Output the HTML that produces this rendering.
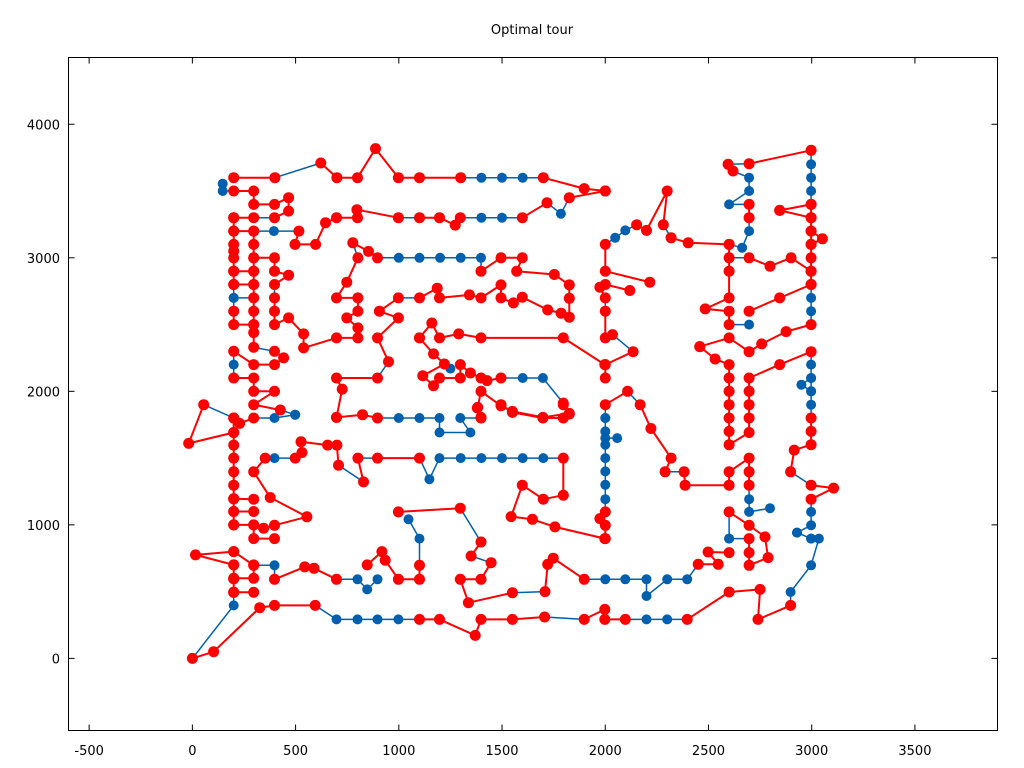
<!DOCTYPE html>
<html><head><meta charset="utf-8"><style>
html,body{margin:0;padding:0;background:#fff;}
svg{display:block;font-family:"DejaVu Sans","Liberation Sans",sans-serif;}
</style></head><body>
<svg id="chart" width="1024" height="768" viewBox="0 0 1024 768" xmlns="http://www.w3.org/2000/svg">
<rect width="1024" height="768" fill="#fff"/>
<text x="532" y="34" font-size="13" text-anchor="middle" fill="#000">Optimal tour</text>
<g id="axes"></g>
<g id="blue-layer"></g>
<g id="red-layer"></g>
<rect x="68.5" y="57.5" width="929" height="673" fill="none" stroke="#000" stroke-width="1"/>
</svg>
<script>
const xTicks = [-500,0,500,1000,1500,2000,2500,3000,3500];
const yTicks = [0,1000,2000,3000,4000];
const bluePaths = [
 [[400,3600],[622,3710]],
 [[1300,3600],[1400,3600],[1500,3600],[1600,3600],[1700,3600]],
 [[147,3555],[147,3500],[200,3500]],
 [[297,3300],[398,3300]],
 [[297,3200],[395,3200],[516,3200]],
 [[998,3300],[1100,3300]],
 [[1298,3300],[1400,3300],[1500,3300],[1598,3300]],
 [[1718,3412],[1785,3330],[1826,3450]],
 [[777,3112],[802,3000]],
 [[897,3000],[1000,3000],[1100,3000],[1200,3000],[1300,3000],[1398,3000],[1398,2900]],
 [[200,2800],[200,2700],[200,2600]],
 [[200,2700],[297,2700]],
 [[398,2800],[398,2700]],
 [[1100,2700],[998,2700]],
 [[950,2222],[897,2100]],
 [[1221,2205],[1250,2170]],
 [[1495,2100],[1600,2100],[1698,2100],[1797,1912]],
 [[297,2330],[398,2300]],
 [[200,2300],[200,2200],[200,2100]],
 [[426,1860],[498,1825]],
 [[55,1900],[200,1800]],
 [[297,1800],[398,1800],[498,1825]],
 [[897,1800],[1000,1800],[1100,1800],[1197,1800],[1197,1692],[1347,1692],[1298,1800],[1398,1800]],
 [[353,1500],[398,1500],[498,1500]],
 [[708,1447],[829,1322]],
 [[802,1500],[897,1500]],
 [[1100,1500],[1148,1342],[1197,1500],[1300,1500],[1400,1500],[1500,1500],[1600,1500],[1700,1500],[1797,1500]],
 [[297,697],[398,697],[398,592]],
 [[698,592],[800,592],[847,517],[897,592]],
 [[1100,697],[1100,897],[1047,1042]],
 [[1298,1125],[1398,872]],
 [[1350,767],[1447,717]],
 [[1298,592],[1398,592]],
 [[1550,492],[1708,500]],
 [[1898,592],[2000,592],[2097,592],[2200,592],[2200,467],[2300,592],[2397,592],[2450,705]],
 [[200,495],[200,397],[0,0]],
 [[595,397],[698,292],[800,292],[897,292],[998,292],[1100,292]],
 [[1706,310],[1898,292]],
 [[2097,292],[2200,292],[2300,292],[2397,292]],
 [[2898,397],[2898,497],[2997,697],[3035,897],[2997,897]],
 [[2997,897],[2929,942]],
 [[2997,1192],[2997,1097],[2997,997],[2929,942]],
 [[2898,1397],[2997,1297]],
 [[2000,1800],[2000,1700],[2000,1600],[2000,1500],[2000,1400],[2000,1300],[2000,1192],[2000,1097]],
 [[2000,1650],[2058,1650]],
 [[2000,2700],[2000,2600]],
 [[2035,2425],[2135,2297]],
 [[2108,2000],[2169,1900]],
 [[2000,1900],[2000,1800]],
 [[2290,1397],[2382,1397]],
 [[2000,3100],[2048,3150],[2097,3205],[2152,3247]],
 [[2281,3247],[2319,3150]],
 [[2600,3000],[2697,3000]],
 [[2600,2500],[2697,2500]],
 [[2595,3700],[2697,3705]],
 [[2619,3650],[2697,3600],[2697,3500],[2600,3400],[2697,3400]],
 [[2697,3300],[2697,3200],[2663,3075],[2600,3100]],
 [[2997,3805],[2997,3700],[2997,3600],[2997,3500],[2997,3400]],
 [[2997,2800],[2997,2700],[2997,2600],[2997,2500]],
 [[2997,2297],[2997,2200],[2997,2100],[2997,2000],[2997,1900],[2997,1800]],
 [[2997,2100],[2950,2050],[2997,2000]],
 [[2697,1297],[2697,1192],[2697,1097],[2798,1125]],
 [[2600,897],[2697,897]],
 [[2600,1097],[2600,897]]
];
const redPaths = [
 [[200,3600],[400,3600]],
 [[622,3710],[700,3600],[800,3600],[887,3818],[998,3600],[1100,3600],[1300,3600]],
 [[1700,3600],[1898,3518],[2000,3500]],
 [[1826,3450],[2000,3500]],
 [[1598,3300],[1718,3412]],
 [[200,3500],[297,3500],[297,3400],[398,3400],[466,3450],[466,3350],[398,3300]],
 [[200,3300],[297,3300]],
 [[200,3200],[297,3200]],
 [[516,3200],[497,3100],[597,3100],[645,3262],[698,3300],[800,3300],[797,3360],[998,3300]],
 [[1100,3300],[1197,3300],[1273,3245],[1298,3300]],
 [[200,3300],[200,3200],[200,3100],[200,3050],[200,3000],[200,2900],[200,2800]],
 [[200,2900],[297,2900]],
 [[200,2800],[297,2800]],
 [[200,2600],[200,2500],[297,2500]],
 [[297,3200],[297,3100],[297,3000],[297,2900],[297,2800],[297,2700],[297,2600],[297,2500],[297,2440],[297,2330]],
 [[297,3000],[398,3000],[398,2900],[466,2870],[398,2800]],
 [[398,2700],[398,2600],[398,2500],[466,2550],[539,2430],[539,2325],[698,2400],[802,2400],[802,2475],[748,2550],[802,2600],[802,2700],[698,2700],[748,2817],[802,3000]],
 [[777,3112],[853,3048],[897,3000]],
 [[1398,2900],[1495,3000],[1598,3000],[1571,2900],[1753,2875],[1826,2797],[1826,2697],[1826,2555],[1786,2585],[1721,2610],[1598,2705],[1555,2662],[1495,2700],[1495,2797],[1398,2700],[1342,2722],[1197,2700],[1186,2772],[1100,2700]],
 [[998,2700],[906,2600],[998,2550],[897,2400],[950,2222]],
 [[897,2100],[698,2100],[726,2017],[698,1805]],
 [[1100,2400],[1160,2512],[1197,2400],[1290,2430],[1398,2400],[1797,2400],[1998,2200]],
 [[1100,2400],[1168,2280],[1221,2205],[1116,2117],[1168,2042],[1197,2100],[1298,2100],[1298,2200],[1347,2137],[1398,2100],[1427,2080],[1495,2100]],
 [[1797,1912],[1826,1835],[1698,1805],[1550,1850],[1495,1892],[1398,2000],[1382,1880],[1398,1805]],
 [[200,2300],[297,2200],[398,2200],[442,2250],[398,2300]],
 [[200,2100],[297,2100],[297,2000],[398,2000],[297,1900],[426,1860]],
 [[698,1805],[824,1825],[897,1800]],
 [[1398,1800],[1380,1875]],
 [[1495,1900],[1550,1842],[1698,1800],[1797,1800],[1826,1830],[1797,1900]],
 [[55,1900],[-18,1610],[200,1692]],
 [[200,1800],[229,1760],[297,1800]],
 [[200,1800],[200,1692],[200,1597],[200,1500],[200,1397],[200,1297],[200,1195],[200,1100],[200,1000]],
 [[200,1195],[297,1192]],
 [[200,1100],[297,1100]],
 [[200,1000],[297,1000],[345,975],[398,997],[555,1060],[377,1205],[297,1397],[353,1500]],
 [[297,1000],[297,897],[398,897]],
 [[498,1500],[531,1542],[526,1622],[655,1597],[700,1597],[708,1447]],
 [[829,1322],[802,1500]],
 [[897,1500],[1100,1500]],
 [[1797,1500],[1797,1222],[1700,1192],[1598,1297],[1544,1062],[1647,1042],[1756,985],[1998,897]],
 [[200,800],[15,775],[200,700]],
 [[200,800],[297,697]],
 [[398,592],[544,685],[589,675],[698,592]],
 [[847,700],[918,800],[934,735],[998,592],[1100,592],[1100,697]],
 [[998,1097],[1298,1125]],
 [[1398,872],[1350,767]],
 [[1447,717],[1398,592],[1298,592],[1337,417],[1550,492]],
 [[1708,500],[1721,705],[1748,750],[1898,592]],
 [[200,700],[200,595],[200,495]],
 [[200,600],[297,600],[297,700]],
 [[200,495],[297,495]],
 [[0,0],[103,50],[326,380],[398,397],[595,397]],
 [[1100,292],[1197,292],[1370,172],[1398,292],[1550,292],[1706,310]],
 [[1898,292],[1998,367],[1998,292],[2097,292]],
 [[2397,292],[2600,497],[2750,517],[2740,292],[2898,397]],
 [[2000,3100],[2000,2900],[2216,2817]],
 [[2119,2755],[2000,2800],[1974,2780],[2000,2700]],
 [[2000,2600],[2000,2400],[2035,2425]],
 [[2135,2297],[2000,2200],[2000,2100]],
 [[2000,1900],[2108,2000]],
 [[2169,1900],[2221,1722],[2319,1500],[2290,1397]],
 [[2382,1397],[2387,1297],[2600,1297],[2600,1397],[2697,1500],[2697,1397],[2697,1297]],
 [[2000,1097],[1974,1047],[2000,997],[2000,897]],
 [[2152,3247],[2200,3205],[2300,3500],[2281,3247]],
 [[2319,3150],[2402,3112],[2600,3100]],
 [[2600,3100],[2600,3000],[2600,2900],[2600,2700],[2484,2617],[2600,2600],[2600,2500]],
 [[2697,3000],[2798,2937],[2900,3000],[2997,2900]],
 [[2697,2600],[2845,2700],[2997,2800]],
 [[2697,3400],[2697,3300]],
 [[2458,2335],[2600,2400],[2697,2297],[2758,2355],[2876,2447],[2997,2500]],
 [[2458,2335],[2532,2242],[2600,2200],[2600,2100],[2600,2000],[2600,1900],[2600,1800],[2600,1700],[2600,1600],[2697,1692],[2697,1800],[2697,1900],[2697,2000],[2697,2100],[2845,2200],[2997,2297]],
 [[2595,3700],[2619,3650]],
 [[2697,3705],[2997,3805]],
 [[2997,3400],[2997,3300],[2997,3200],[2997,3100],[2997,3000],[2997,2900],[2997,2800]],
 [[2845,3355],[2997,3400]],
 [[2845,3355],[2997,3300]],
 [[2997,3200],[3052,3142],[2997,3100]],
 [[2997,1800],[2997,1700],[2997,1600],[2915,1560],[2898,1397]],
 [[2997,1297],[3106,1275],[2997,1192]],
 [[2600,1097],[2697,997],[2774,910],[2789,755],[2697,697],[2697,792],[2697,897]],
 [[2600,792],[2498,797],[2547,705],[2450,705]]
];
const X0=-600, X1=3900, Y0=-540, Y1=4500;
const L=68.5, R=997.5, T=57.5, B=730.5;
function sx(v){return L+(v-X0)/(X1-X0)*(R-L);}
function sy(v){return B-(v-Y0)/(Y1-Y0)*(B-T);}
const NS="http://www.w3.org/2000/svg";
const axes=document.getElementById('axes');
xTicks.forEach(t=>{
  const x=sx(t);
  const l1=document.createElementNS(NS,'line');
  l1.setAttribute('x1',x);l1.setAttribute('x2',x);l1.setAttribute('y1',B);l1.setAttribute('y2',B-6);l1.setAttribute('stroke','#000');
  
  
  axes.appendChild(l1);
  const l2=document.createElementNS(NS,'line');
  l2.setAttribute('x1',x);l2.setAttribute('x2',x);l2.setAttribute('y1',T);l2.setAttribute('y2',T+6);l2.setAttribute('stroke','#000');
  
  
  axes.appendChild(l2);
  const tx=document.createElementNS(NS,'text');
  tx.setAttribute('x',x);tx.setAttribute('y',755);tx.setAttribute('font-size','13');tx.setAttribute('text-anchor','middle');
  tx.textContent=t;
  
  
  axes.appendChild(tx);
});
yTicks.forEach(t=>{
  const y=sy(t);
  const l1=document.createElementNS(NS,'line');
  l1.setAttribute('x1',L);l1.setAttribute('x2',L+6);l1.setAttribute('y1',y);l1.setAttribute('y2',y);l1.setAttribute('stroke','#000');
  
  
  axes.appendChild(l1);
  const l2=document.createElementNS(NS,'line');
  l2.setAttribute('x1',R);l2.setAttribute('x2',R-6);l2.setAttribute('y1',y);l2.setAttribute('y2',y);l2.setAttribute('stroke','#000');
  
  
  axes.appendChild(l2);
  const tx=document.createElementNS(NS,'text');
  tx.setAttribute('x',60);tx.setAttribute('y',y+5);tx.setAttribute('font-size','13');tx.setAttribute('text-anchor','end');
  tx.textContent=t;
  
  
  axes.appendChild(tx);
});
function drawLayer(g,paths,color,lw,r){
  paths.forEach(p=>{
    const pl=document.createElementNS(NS,'polyline');
    pl.setAttribute('points',p.map(q=>sx(q[0]).toFixed(1)+','+sy(q[1]).toFixed(1)).join(' '));
    pl.setAttribute('fill','none');pl.setAttribute('stroke',color);pl.setAttribute('stroke-width',lw);pl.setAttribute('stroke-linejoin','round');
    
    
    g.appendChild(pl);
  });
  paths.forEach(p=>{
    p.forEach(q=>{
      const c=document.createElementNS(NS,'circle');
      c.setAttribute('cx',sx(q[0]).toFixed(1));c.setAttribute('cy',sy(q[1]).toFixed(1));c.setAttribute('r',r);c.setAttribute('fill',color);
      
      
      g.appendChild(c);
    });
  });
}
drawLayer(document.getElementById('blue-layer'),bluePaths,'#0060ad',1.5,5);
drawLayer(document.getElementById('red-layer'),redPaths,'#ff0000',2,5.5);
</script>
</body></html>
